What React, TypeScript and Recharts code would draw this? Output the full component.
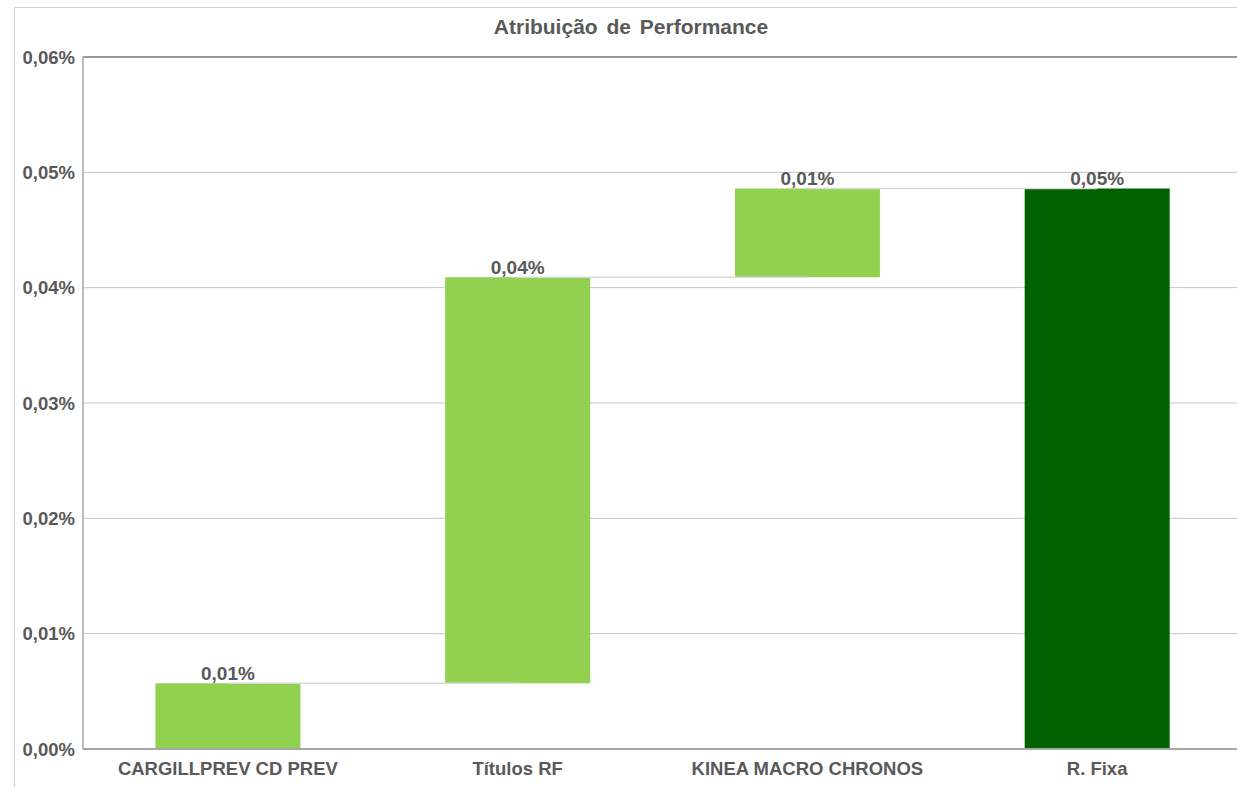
import React from 'react';
import {
  ComposedChart,
  Bar,
  Cell,
  XAxis,
  YAxis,
  CartesianGrid,
  LabelList,
  ReferenceLine,
} from 'recharts';

// values in % (0.0057 means 0,0057%)
const categories = ['CARGILLPREV CD PREV', 'Títulos RF', 'KINEA MACRO CHRONOS', 'R. Fixa'];
const contributions = [0.0057, 0.0352, 0.0077];
const total = 0.0486;
const yTicks = [0, 0.01, 0.02, 0.03, 0.04, 0.05, 0.06];

const LIGHT_GREEN = '#92D050';
const DARK_GREEN = '#006100';
const TEXT = '#595959';
const FONT = '"Liberation Sans", Arial, sans-serif';

// waterfall: invisible base + visible delta
const data = categories.map((name, i) => {
  if (i < contributions.length) {
    const base = contributions.slice(0, i).reduce((a, b) => a + b, 0);
    return { name, base, value: contributions[i], top: base + contributions[i], isTotal: false };
  }
  return { name, base: 0, value: total, top: total, isTotal: true };
});

const fmt = (v: number) => v.toFixed(2).replace('.', ',') + '%';

export default function App() {
  return (
    <div
      style={{
        position: 'absolute',
        left: 0,
        top: 0,
        width: 1237,
        height: 787,
        overflow: 'hidden',
        background: '#fff',
        fontFamily: FONT,
      }}
    >
      <div
        style={{
          position: 'absolute',
          left: 14,
          top: 7,
          width: 1300,
          height: 900,
          border: '1px solid #d0d0d0',
        }}
      />
      <div
        style={{
          position: 'absolute',
          left: 14,
          width: 1234,
          top: 15,
          textAlign: 'center',
          fontSize: 21,
          fontWeight: 'bold',
          color: TEXT,
          wordSpacing: 3,
        }}
      >
        Atribuição de Performance
      </div>
      <div style={{ position: 'absolute', left: 0, top: 0 }}>
        <ComposedChart
          width={1250}
          height={787}
          data={data}
          margin={{ top: 57, right: 8, bottom: 0, left: 0 }}
          barCategoryGap="25%"
        >
          <CartesianGrid vertical={false} stroke="#c4c4c4" />
          <XAxis
            dataKey="name"
            height={38}
            tickLine={false}
            axisLine={{ stroke: '#a6a6a6', strokeWidth: 2 }}
            tickMargin={7}
            interval={0}
            tick={{ fill: TEXT, fontSize: 18.5, fontWeight: 'bold', fontFamily: FONT }}
          />
          <YAxis
            width={83}
            domain={[0, 0.06]}
            ticks={yTicks}
            tickFormatter={fmt}
            tickLine={false}
            axisLine={{ stroke: '#a6a6a6', strokeWidth: 1.5 }}
            tickMargin={2}
            tick={{ fill: TEXT, fontSize: 18.5, fontWeight: 'bold', fontFamily: FONT }}
          />
          <ReferenceLine y={0.06} stroke="#9a9a9a" strokeWidth={2} />
          {data.slice(0, -1).map((d, i) => (
            <ReferenceLine
              key={`c-${i}`}
              segment={[
                { x: d.name, y: d.top },
                { x: data[i + 1].name, y: d.top },
              ]}
              stroke="#d9d9d9"
              strokeWidth={1.5}
            />
          ))}
          <Bar dataKey="base" stackId="w" fill="transparent" isAnimationActive={false} />
          <Bar dataKey="value" stackId="w" isAnimationActive={false}>
            {data.map((d, i) => (
              <Cell key={`b-${i}`} fill={d.isTotal ? DARK_GREEN : LIGHT_GREEN} />
            ))}
            <LabelList
              dataKey="value"
              position="top"
              offset={3}
              formatter={(v: any) => fmt(Number(v))}
              style={{ fill: TEXT, fontSize: 19, fontWeight: 'bold', fontFamily: FONT }}
            />
          </Bar>
        </ComposedChart>
      </div>
    </div>
  );
}
